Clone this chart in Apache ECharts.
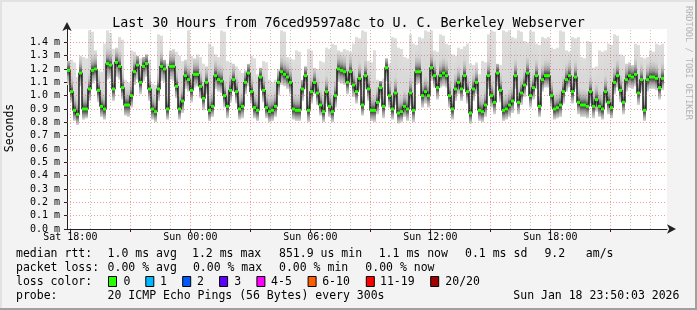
<!DOCTYPE html>
<html>
<head>
<meta charset="utf-8">
<script src="https://cdn.jsdelivr.net/npm/echarts/dist/echarts.min.js"></script>
<style>
html,body{margin:0;padding:0;background:#f3f3f3;}
#chart{width:697px;height:310px;}
</style>
</head>
<body>
<div id="chart"></div>
<script>
// ---- data (minutes since Sat 00:00) ----
const startMinute = 1070;   // Sat 17:50
const endMinute = 2870;     // Sun 23:50
const stepMinutes = 9;

const medianRtt = [
1.19,1.03,0.89,0.86,1.17,0.90,0.90,1.05,1.19,1.20,
1.04,0.92,0.90,1.24,1.23,1.05,1.25,1.22,1.06,0.93,
0.93,1.00,1.18,1.23,1.10,1.22,1.24,1.05,0.90,0.88,
1.05,1.22,1.20,0.90,1.22,1.22,1.07,0.90,0.96,1.15,
1.12,1.04,1.16,1.16,1.07,0.98,1.10,0.89,0.92,1.15,
1.12,1.11,1.00,0.92,1.04,1.12,1.03,0.90,0.92,1.10,
1.17,1.03,0.91,0.89,1.14,1.04,0.91,0.88,0.89,0.92,
1.10,1.18,1.16,1.14,1.10,0.90,0.89,0.89,1.05,1.15,
0.89,1.03,1.10,1.02,0.93,0.88,1.03,0.92,0.88,1.00,
1.20,1.19,1.18,1.10,1.18,1.08,1.03,1.13,0.93,1.15,
1.05,0.89,0.89,0.95,1.06,0.92,1.21,1.00,0.90,1.02,
0.87,0.88,0.92,0.90,1.02,0.89,1.18,1.18,1.00,1.03,
1.00,1.21,1.15,1.06,1.15,1.17,1.15,1.00,0.90,1.05,
1.10,1.05,1.15,1.03,0.87,1.05,1.10,0.89,0.88,0.93,
1.15,1.00,0.95,1.17,1.04,0.89,0.90,0.93,0.96,1.15,
0.95,1.02,1.08,1.17,1.00,1.06,1.15,0.92,1.12,1.15,
1.15,1.00,0.90,0.91,0.93,1.03,1.12,1.15,1.03,1.14,
0.95,0.93,0.93,0.92,1.03,0.92,0.97,0.92,0.90,1.03,
0.95,0.91,1.10,1.15,1.04,0.95,1.12,1.15,1.14,1.16,
1.02,1.12,0.89,1.12,1.14,1.14,1.13,1.06,1.13
];

const smokeHigh = [
1.26,1.27,1.25,1.14,1.30,1.29,1.28,1.49,1.48,1.34,
1.19,1.18,1.39,1.49,1.47,1.35,1.36,1.44,1.42,1.12,
1.10,1.34,1.33,1.30,1.28,1.29,1.31,1.27,1.09,1.08,
1.46,1.45,1.27,1.24,1.34,1.35,1.33,1.30,1.26,1.27,
1.49,1.30,1.28,1.31,1.29,1.24,1.22,1.39,1.37,1.31,
1.29,1.49,1.48,1.26,1.25,1.24,1.22,1.19,1.17,1.19,
1.24,1.30,1.28,1.16,1.21,1.26,1.25,1.12,1.10,1.12,
1.20,1.49,1.48,1.29,1.28,1.27,1.34,1.33,1.12,1.22,
1.35,1.34,1.21,1.20,1.26,1.25,1.36,1.35,1.39,1.38,
1.34,1.33,1.35,1.34,1.33,1.39,1.44,1.43,1.49,1.48,
1.26,1.25,1.34,1.12,1.11,1.13,1.28,1.24,1.44,1.43,
1.36,1.35,1.29,1.28,1.46,1.39,1.38,1.44,1.43,1.49,
1.48,1.49,1.34,1.33,1.46,1.45,1.39,1.38,1.31,1.30,
1.36,1.35,1.37,1.39,1.24,1.23,1.25,1.16,1.26,1.25,
1.46,1.49,1.48,1.24,1.23,1.49,1.48,1.49,1.44,1.43,
1.49,1.48,1.41,1.40,1.49,1.48,1.39,1.38,1.44,1.43,
1.44,1.36,1.35,1.36,1.49,1.48,1.34,1.33,1.44,1.43,
1.44,1.29,1.28,1.41,1.40,1.21,1.22,1.34,1.33,1.34,
1.39,1.38,1.46,1.45,1.31,1.30,1.24,1.25,1.23,1.39,
1.38,1.29,1.28,1.29,1.34,1.33,1.39,1.38,1.39
];

const smokeLow = [
1.08,0.95,0.81,0.78,1.07,0.82,0.83,0.96,1.09,1.11,
0.95,0.84,0.82,1.12,1.13,0.96,1.14,1.12,0.97,0.85,
0.84,0.91,1.08,1.12,1.01,1.11,1.14,0.96,0.82,0.80,
0.96,1.11,1.10,0.82,1.12,1.11,0.98,0.82,0.87,1.05,
1.03,0.95,1.06,1.07,0.98,0.89,1.01,0.81,0.84,1.05,
1.03,1.02,0.91,0.83,0.95,1.03,0.94,0.82,0.83,1.01,
1.07,0.94,0.83,0.81,1.05,0.95,0.83,0.80,0.81,0.84,
1.00,1.08,1.07,1.05,1.01,0.82,0.81,0.81,0.96,1.05,
0.80,0.94,1.01,0.93,0.85,0.80,0.94,0.84,0.80,0.91,
1.10,1.09,1.08,1.01,1.08,0.99,0.94,1.04,0.85,1.05,
0.96,0.81,0.80,0.86,0.97,0.83,1.11,0.91,0.82,0.93,
0.79,0.80,0.84,0.81,0.93,0.80,1.08,1.09,0.91,0.94,
0.91,1.11,1.06,0.97,1.06,1.07,1.06,0.91,0.82,0.96,
1.01,0.96,1.05,0.94,0.79,0.96,1.01,0.81,0.80,0.84,
1.05,0.91,0.86,1.07,0.95,0.81,0.82,0.84,0.87,1.05,
0.86,0.93,0.99,1.07,0.91,0.97,1.05,0.84,1.03,1.06,
1.06,0.91,0.82,0.83,0.84,0.94,1.03,1.06,0.94,1.05,
0.86,0.84,0.84,0.83,0.94,0.83,0.88,0.84,0.82,0.94,
0.86,0.83,1.01,1.06,0.95,0.86,1.03,1.06,1.05,1.07,
0.93,1.03,0.81,1.03,1.05,1.05,1.04,0.97,1.04
];

const xLabelValues = [1080, 1440, 1800, 2160, 2520];
const xLabelTexts  = ['Sat 18:00', 'Sun 00:00', 'Sun 06:00', 'Sun 12:00', 'Sun 18:00'];
const xMajorGrid = [1080, 1260, 1440, 1620, 1800, 1980, 2160, 2340, 2520, 2700];
const xMinorGrid = [1140, 1200, 1320, 1380, 1500, 1560, 1680, 1740, 1860, 1920,
                    2040, 2100, 2220, 2280, 2400, 2460, 2580, 2640, 2760, 2820];
const yGrid = [0.1, 0.2, 0.3, 0.4, 0.5, 0.6, 0.7, 0.8, 0.9, 1.0, 1.1, 1.2, 1.3, 1.4];

const titleText = 'Last 30 Hours from 76ced9597a8c to U. C. Berkeley Webserver';
const rttStats = ['1.0 ms avg', '1.2 ms max', '851.9 us min', '1.1 ms now', '0.1 ms sd', '9.2', 'am/s'];
const lossStats = ['0.00 % avg', '0.00 % max', '0.00 % min', '0.00 % now'];
const lossLabels = ['0', '1', '2', '3', '4-5', '6-10', '11-19', '20/20'];
const lossColors = ['#26ff00', '#00b8ff', '#0059ff', '#5e00ff', '#ff00ff', '#ff5e00', '#ff0000', '#a10000'];
const probeText = '20 ICMP Echo Pings (56 Bytes) every 300s';
const dateText = 'Sun Jan 18 23:50:03 2026';

// ---- build ----
const MONO = '"DejaVu Sans Mono", monospace';
const times = medianRtt.map((v, i) => startMinute + i * stepMinutes);
const rows = medianRtt.map((v, i) => [times[i], v, smokeHigh[i], smokeLow[i]]);
const stepLine = medianRtt.map((v, i) => [times[i], v]);
stepLine.push([times[times.length - 1] + stepMinutes, medianRtt[medianRtt.length - 1]]);

function smokeItem(params, api) {
  const t = api.value(0), med = api.value(1), hi = api.value(2), lo = api.value(3);
  const pTop = api.coord([t, hi]);
  const pNext = api.coord([t + stepMinutes, hi]);
  const yMed = api.coord([t, med])[1];
  const yBot = api.coord([t, lo])[1];
  const yTop = pTop[1];
  const H = yBot - yTop;
  const f = y => Math.min(1, Math.max(0, (y - yTop) / H));
  const stops = [
    [0, '#dedede'], [f(yMed - 16), '#d6d6d6'], [f(yMed - 10), '#bcbcbc'],
    [f(yMed - 6), '#979797'], [f(yMed - 3), '#626262'], [f(yMed), '#363636'],
    [f(yMed + 3), '#606060'], [f(yMed + 6), '#9a9a9a'], [1, '#dadada']
  ].map(s => ({offset: s[0], color: s[1]}));
  return {
    type: 'rect',
    shape: {x: pTop[0], y: yTop, width: pNext[0] - pTop[0], height: H},
    style: {fill: new echarts.graphic.LinearGradient(0, 0, 0, 1, stops)}
  };
}

function greenItem(params, api) {
  const t = api.value(0), med = api.value(1);
  const p = api.coord([t, med]);
  const p2 = api.coord([t + stepMinutes, med]);
  return {
    type: 'rect',
    shape: {x: p[0], y: p[1] - 1.5, width: p2[0] - p[0], height: 3},
    style: {fill: lossColors[0]}
  };
}

const gridLine = (color) => ({
  silent: true, symbol: ['none', 'none'], animation: false,
  label: {show: false},
  lineStyle: {color: color, width: 1, type: [1, 2]}
});

const graphics = [];
// frame shading
graphics.push({type: 'rect', shape: {x: 0, y: 0, width: 697, height: 2}, style: {fill: '#e2e2e2'}});
graphics.push({type: 'rect', shape: {x: 0, y: 0, width: 2, height: 310}, style: {fill: '#e2e2e2'}});
graphics.push({type: 'rect', shape: {x: 695, y: 0, width: 2, height: 310}, style: {fill: '#a0a0a0'}});
graphics.push({type: 'rect', shape: {x: 0, y: 308, width: 697, height: 2}, style: {fill: '#a0a0a0'}});

const legendFont = '11.5px ' + MONO;
function addText(txt, x, y, extra) {
  graphics.push(Object.assign({
    type: 'text', x: x, y: y,
    style: {text: txt, font: legendFont, fill: '#000', verticalAlign: 'middle', align: 'left'}
  }, extra || {}));
}
// y axis name
graphics.push({type: 'text', x: 10, y: 128, rotation: Math.PI / 2,
  style: {text: 'Seconds', font: '11.5px ' + MONO, fill: '#000', align: 'center', verticalAlign: 'middle'}});
// watermark
graphics.push({type: 'text', x: 688, y: 6, rotation: -Math.PI / 2,
  style: {text: 'RRDTOOL / TOBI OETIKER', font: '8.6px ' + MONO, fill: '#b4b4b4', align: 'left', verticalAlign: 'middle'}});

// line 1
addText('median rtt:', 16, 254);
const rttX = [107.6, 192, 279, 378.7, 465, 544.4, 585.8];
rttStats.forEach((s, i) => addText(s, rttX[i], 254));
// line 2
addText('packet loss:', 16, 268);
const lossX = [107.6, 192.9, 279, 365.3];
lossStats.forEach((s, i) => addText(s, lossX[i], 268));
// line 3
addText('loss color:', 16, 282);
const boxX = [108, 145.3, 182.2, 219.1, 256.4, 307.6, 365.8, 430.2];
const boxLabelX = [123.6, 160, 196.9, 234.2, 271.1, 322.2, 380, 445.3];
lossLabels.forEach((s, i) => {
  graphics.push({type: 'rect', shape: {x: boxX[i] + 0.5, y: 276.5, width: 8, height: 10},
    style: {fill: lossColors[i], stroke: '#000', lineWidth: 1}});
  addText(s, boxLabelX[i], 282);
});
// line 4
addText('probe:', 16, 296);
addText(probeText, 107.6, 296);
addText(dateText, 513.3, 296);

const chart = echarts.init(document.getElementById('chart'), null, {renderer: 'canvas'});
chart.setOption({
  animation: false,
  backgroundColor: '#f3f3f3',
  title: {
    text: titleText, left: 'center', top: 12,
    textStyle: {fontFamily: MONO, fontSize: 13.3, fontWeight: 'normal', color: '#000'}
  },
  grid: {left: 67, top: 29, width: 600, height: 200, show: true, backgroundColor: '#ffffff', borderWidth: 0},
  xAxis: {
    type: 'value', min: startMinute, max: endMinute,
    splitLine: {show: false},
    axisLine: {show: true, lineStyle: {color: '#222', width: 1}, symbol: ['none', 'arrow'], symbolSize: [7, 9], symbolOffset: [0, 9]},
    axisTick: {show: true, customValues: xMajorGrid, length: 3, lineStyle: {color: '#222'}},
    axisLabel: {
      customValues: xLabelValues, margin: 3,
      fontFamily: MONO, fontSize: 10, color: '#000',
      formatter: v => xLabelTexts[xLabelValues.indexOf(Math.round(v))] || ''
    }
  },
  yAxis: {
    type: 'value', min: 0, max: 1.5, interval: 0.1,
    splitLine: {show: false},
    axisLine: {show: true, lineStyle: {color: '#222', width: 1}, symbol: ['none', 'arrow'], symbolSize: [7, 9], symbolOffset: [0, 7]},
    axisTick: {show: true, length: 3, lineStyle: {color: '#222'}},
    axisLabel: {
      showMaxLabel: false, margin: 7,
      fontFamily: MONO, fontSize: 10, color: '#000',
      formatter: v => v.toFixed(1) + ' m'
    }
  },
  graphic: graphics,
  series: [
    {type: 'custom', name: 'smoke', renderItem: smokeItem, data: rows, z: 2, clip: true,
     encode: {x: 0, y: 1}, silent: true},
    {type: 'line', name: 'minor grid', data: [], z: 3, silent: true,
     markLine: Object.assign(gridLine('rgba(150,150,150,0.55)'), {data: xMinorGrid.map(v => ({xAxis: v}))})},
    {type: 'line', name: 'major grid', data: [], z: 3, silent: true,
     markLine: Object.assign(gridLine('rgba(222,80,72,0.55)'),
       {data: xMajorGrid.map(v => ({xAxis: v})).concat(yGrid.map(v => ({yAxis: v})))})},
    {type: 'line', name: 'median', data: stepLine, step: 'end', z: 4, symbol: 'none', silent: true,
     lineStyle: {color: '#111', width: 1.4}},
    {type: 'custom', name: 'loss 0', renderItem: greenItem, data: rows, z: 5, clip: true,
     encode: {x: 0, y: 1}, silent: true}
  ]
});
</script>
</body>
</html>
